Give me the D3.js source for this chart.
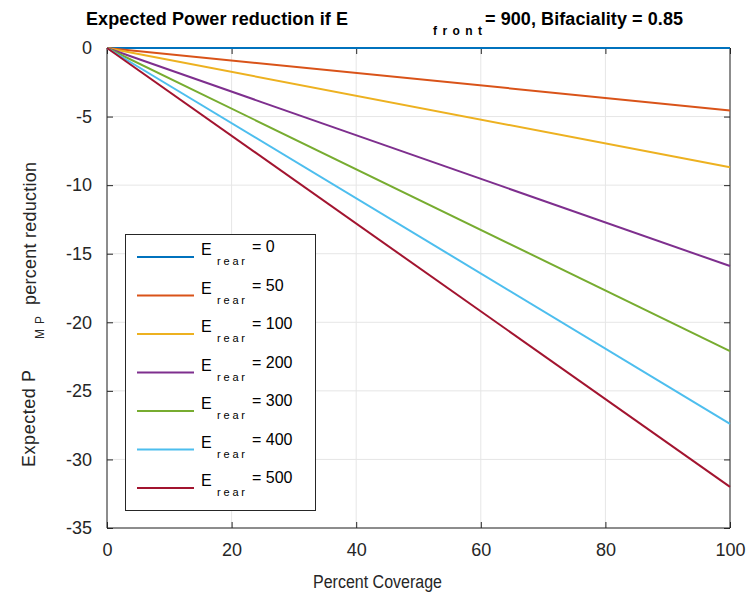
<!DOCTYPE html>
<html><head><meta charset="utf-8">
<script src="https://cdn.jsdelivr.net/npm/d3@7"></script>
<style>body{margin:0;background:#fff}text{font-family:"Liberation Sans",Arial,sans-serif}</style>
</head><body>
<script>
const coverage = [0, 100];
const eRear = [0, 50, 100, 200, 300, 400, 500];
const seriesEnd = [0, -4.55, -8.7, -15.9, -22.1, -27.4, -32.0];
const colors = ["#0072BD","#D95319","#EDB120","#7E2F8E","#77AC30","#4DBEEE","#A2142F"];
const xTicks = [0, 20, 40, 60, 80, 100];
const yTicks = [0, -5, -10, -15, -20, -25, -30, -35];

const W = 748, H = 593;
const m = {l:107, r:730, t:48, b:528};
const svg = d3.select("body").append("svg").attr("width", W).attr("height", H);
const x = d3.scaleLinear().domain([0,100]).range([m.l, m.r]);
const y = d3.scaleLinear().domain([-35,0]).range([m.b, m.t]);

// grid
const g = svg.append("g");
g.selectAll(".gx").data(xTicks).join("line").attr("x1",d=>x(d)).attr("x2",d=>x(d)).attr("y1",m.t).attr("y2",m.b).attr("stroke","#e6e6e6").attr("stroke-width",1);
g.selectAll(".gy").data(yTicks).join("line").attr("y1",d=>y(d)).attr("y2",d=>y(d)).attr("x1",m.l).attr("x2",m.r).attr("stroke","#e6e6e6").attr("stroke-width",1);

// axes
const ax = d3.axisBottom(x).tickValues(xTicks).tickSize(-6).tickPadding(15).tickFormat(d3.format("d"));
const ay = d3.axisLeft(y).tickValues(yTicks).tickSize(-6).tickPadding(15).tickFormat(d=>d===0?"0":"-"+Math.abs(d));
const axt = d3.axisTop(x).tickValues(xTicks).tickSize(-6).tickFormat("");
const ayr = d3.axisRight(y).tickValues(yTicks).tickSize(-6).tickFormat("");
function style(sel){ sel.selectAll("path,line").attr("stroke","#262626"); sel.selectAll("text").attr("fill","#262626").attr("font-size",18).attr("font-family","Liberation Sans, Arial, sans-serif"); }
svg.append("g").attr("transform",`translate(0,${m.b})`).call(ax).call(style).select(".domain").attr("d",`M${m.l},0H${m.r}`);
svg.append("g").attr("transform",`translate(${m.l},0)`).call(ay).call(style).select(".domain").attr("d",`M0,${m.t}V${m.b}`);
svg.append("g").attr("transform",`translate(0,${m.t})`).call(axt).call(style).select(".domain").attr("d",`M${m.l},0H${m.r}`);
svg.append("g").attr("transform",`translate(${m.r},0)`).call(ayr).call(style).select(".domain").attr("d",`M0,${m.t}V${m.b}`);

// lines
const line = d3.line().x(d=>x(d[0])).y(d=>y(d[1]));
eRear.forEach((e,i)=>{
  const pts = coverage.map(c=>[c, seriesEnd[i]*c/100]);
  svg.append("path").attr("d", line(pts)).attr("fill","none").attr("stroke",colors[i]).attr("stroke-width",2);
});

// legend
const lg = svg.append("g");
lg.append("rect").attr("x",125.5).attr("y",234.5).attr("width",190).attr("height",276).attr("fill","#fff").attr("stroke","#262626").attr("stroke-width",1);
eRear.forEach((e,i)=>{
  const yy = 257 + i*38.5;
  lg.append("line").attr("x1",137).attr("x2",194).attr("y1",yy).attr("y2",yy).attr("stroke",colors[i]).attr("stroke-width",2);
  lg.append("text").attr("x",201).attr("y",yy-2).attr("font-size",16).attr("fill","#000").text("E");
  lg.append("text").attr("x",217).attr("y",yy+8).attr("font-size",11).attr("textLength",28).attr("fill","#000").text("rear");
  lg.append("text").attr("x",252).attr("y",yy-5).attr("font-size",16).attr("fill","#000").text("= " + e);
});

// title
svg.append("text").attr("x",86).attr("y",25).attr("font-size",18).attr("font-weight","bold").attr("textLength",262).attr("fill","#000").text("Expected Power reduction if E");
svg.append("text").attr("x",433).attr("y",35).attr("font-size",12).attr("font-weight","bold").attr("textLength",49).attr("fill","#000").text("front");
svg.append("text").attr("x",485).attr("y",25).attr("font-size",18).attr("font-weight","bold").attr("textLength",198).attr("fill","#000").text("= 900, Bifaciality = 0.85");

// x label
svg.append("text").attr("x",313).attr("y",588).attr("font-size",18).attr("textLength",129).attr("lengthAdjust","spacingAndGlyphs").attr("fill","#262626").text("Percent Coverage");
// y label
const yl = svg.append("g").attr("transform","translate(35,0) rotate(-90)");
yl.append("text").attr("x",-467).attr("y",0).attr("font-size",18).attr("textLength",97).attr("fill","#262626").text("Expected P");
yl.append("text").attr("x",-339).attr("y",9).attr("font-size",12).attr("textLength",23).attr("fill","#262626").text("MP");
yl.append("text").attr("x",-305).attr("y",1).attr("font-size",18).attr("textLength",143).attr("fill","#262626").text("percent reduction");
</script>
</body></html>
